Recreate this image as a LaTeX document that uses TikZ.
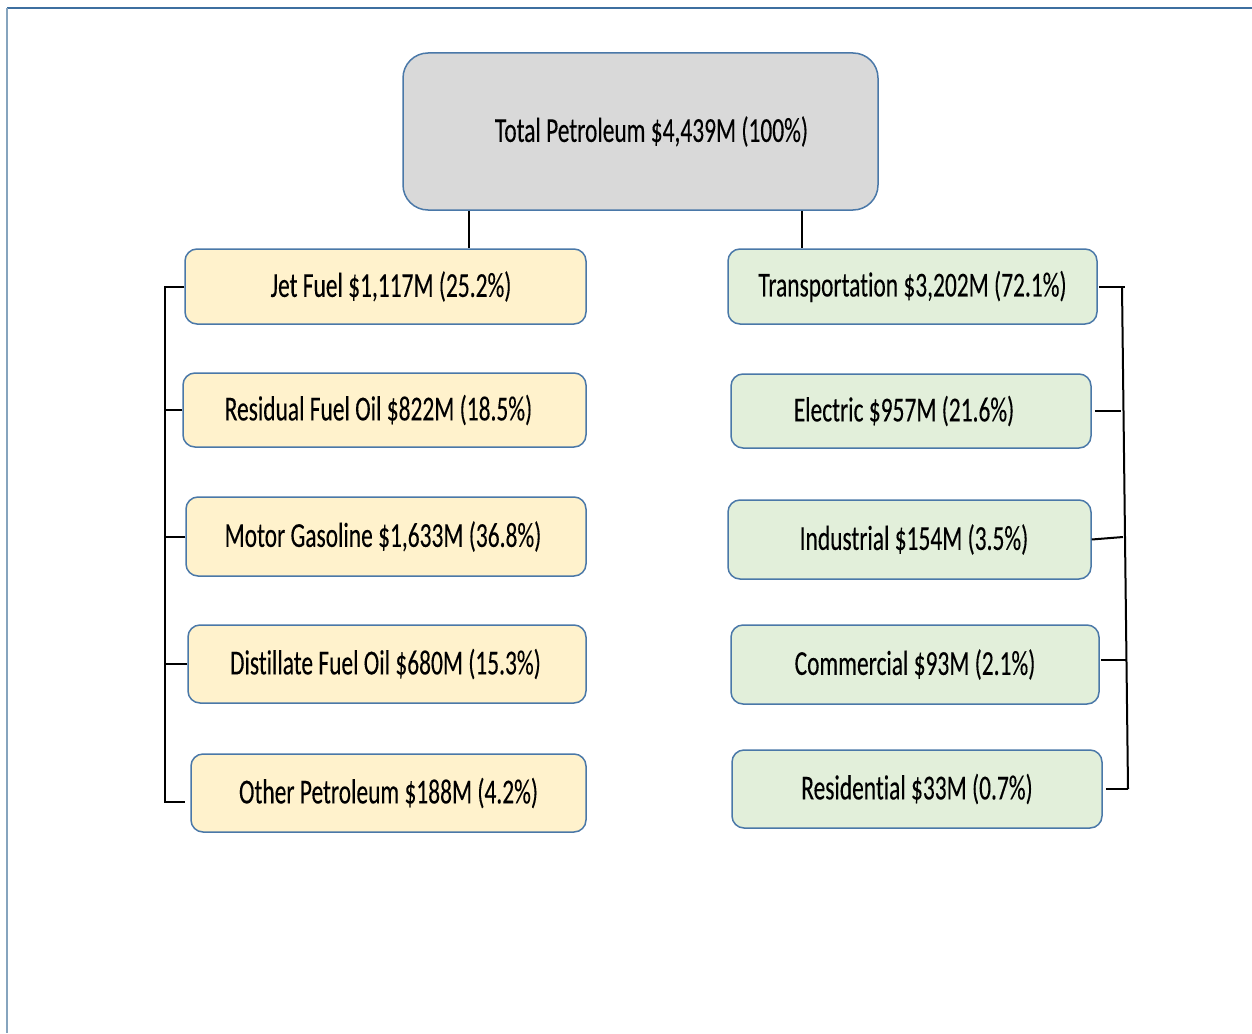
\documentclass[tikz,border=0pt]{standalone}
\usepackage{fontspec}
\setmainfont[FakeStretch=0.67,FakeBold=0.2,Ligatures={NoCommon}]{Carlito}
\definecolor{edgeblue}{HTML}{4A78A8}
\definecolor{frametop}{HTML}{3D6FA0}
\definecolor{frameleft}{HTML}{86A4BE}
\definecolor{topfill}{HTML}{D9D9D9}
\definecolor{fuelfill}{HTML}{FFF2CC}
\definecolor{sectfill}{HTML}{E2EFDA}
\newcommand{\lbl}[1]{\raisebox{-2pt}{#1}}
\tikzset{
  basebox/.style={draw=edgeblue, line width=1.5pt, rounded corners=12pt, inner sep=0pt,
    font=\fontsize{35pt}{42pt}\selectfont, text=black},
  topbox/.style={basebox, fill=topfill, rounded corners=25pt},
  fuelbox/.style={basebox, fill=fuelfill},
  sectbox/.style={basebox, fill=sectfill},
  conn/.style={draw=black, line width=2pt}
}
\begin{document}
\begin{tikzpicture}[x=1pt,y=-1pt]
\useasboundingbox (0,0) rectangle (1252,1033);
\fill[white] (0,0) rectangle (1252,1033);
% frame
\draw[frametop, line width=2pt] (7,8) -- (1252,8);
\draw[frameleft, line width=1.5pt] (7,8) -- (7,1033);

% top
\node[topbox, minimum width=475pt, minimum height=157pt] (top) at (640.5,131.5) {\hspace{22pt}\lbl{Total Petroleum \$4,439M (100\%)}};

% left column
\node[fuelbox, minimum width=401pt, minimum height=75pt] (jet) at (385.5,286.5) {\hspace{11pt}\lbl{Jet Fuel \$1,117M (25.2\%)}};
\node[fuelbox, minimum width=403pt, minimum height=74pt] (res) at (384.5,410) {\hspace{-12pt}\lbl{Residual Fuel Oil \$822M (18.5\%)}};
\node[fuelbox, minimum width=400pt, minimum height=79pt] (mot) at (386,536.5) {\hspace{-6pt}\lbl{Motor Gasoline \$1,633M (36.8\%)}};
\node[fuelbox, minimum width=398pt, minimum height=78pt] (dis) at (387,664) {\hspace{-3pt}\lbl{Distillate Fuel Oil \$680M (15.3\%)}};
\node[fuelbox, minimum width=395pt, minimum height=78pt] (oth) at (388.5,793) {\lbl{Other Petroleum \$188M (4.2\%)}};

% right column
\node[sectbox, minimum width=369pt, minimum height=75pt] (tra) at (912.5,286.5) {\lbl{Transportation \$3,202M (72.1\%)}};
\node[sectbox, minimum width=360pt, minimum height=74pt] (ele) at (911,411) {\hspace{-14pt}\lbl{Electric \$957M (21.6\%)}};
\node[sectbox, minimum width=363pt, minimum height=79pt] (ind) at (909.5,539.5) {\hspace{9pt}\lbl{Industrial \$154M (3.5\%)}};
\node[sectbox, minimum width=368pt, minimum height=79pt] (com) at (915,664.5) {\lbl{Commercial \$93M (2.1\%)}};
\node[sectbox, minimum width=370pt, minimum height=78pt] (rsd) at (917,789) {\lbl{Residential \$33M (0.7\%)}};

% connectors from top
\coordinate (lx) at (469,0);
\coordinate (rx) at (802,0);
\draw[conn] (top.south -| lx) -- (jet.north -| lx);
\draw[conn] (top.south -| rx) -- (tra.north -| rx);

% left bracket
\coordinate (lb) at (165,0);
\coordinate (othtick) at ([yshift=-9pt]oth.west);
\draw[conn] (jet.west) -- (jet.west -| lb) -- (othtick -| lb) -- ([xshift=-5pt]othtick);
\draw[conn] (res.west) -- (res.west -| lb);
\draw[conn] (mot.west) -- (mot.west -| lb);
\draw[conn] (dis.west) -- (dis.west -| lb);

% right bracket
\coordinate (rt) at (1122,286.5);
\coordinate (rbt) at (1128,789);
\coordinate (rb1) at (1125,286.5);
\coordinate (rb2) at (1121,411);
\coordinate (rb3) at (1123,537);
\coordinate (rb4) at (1126,660);
\draw[conn] ([xshift=1pt]tra.east) -- (rb1);
\draw[conn] (rt) -- (rbt);
\draw[conn] ([xshift=3pt]ele.east) -- (rb2);
\draw[conn] (ind.east) -- (rb3);
\draw[conn] ([xshift=1pt,yshift=4.5pt]com.east) -- (rb4);
\draw[conn] ([xshift=3pt]rsd.east) -- (rbt);
\end{tikzpicture}
\end{document}
